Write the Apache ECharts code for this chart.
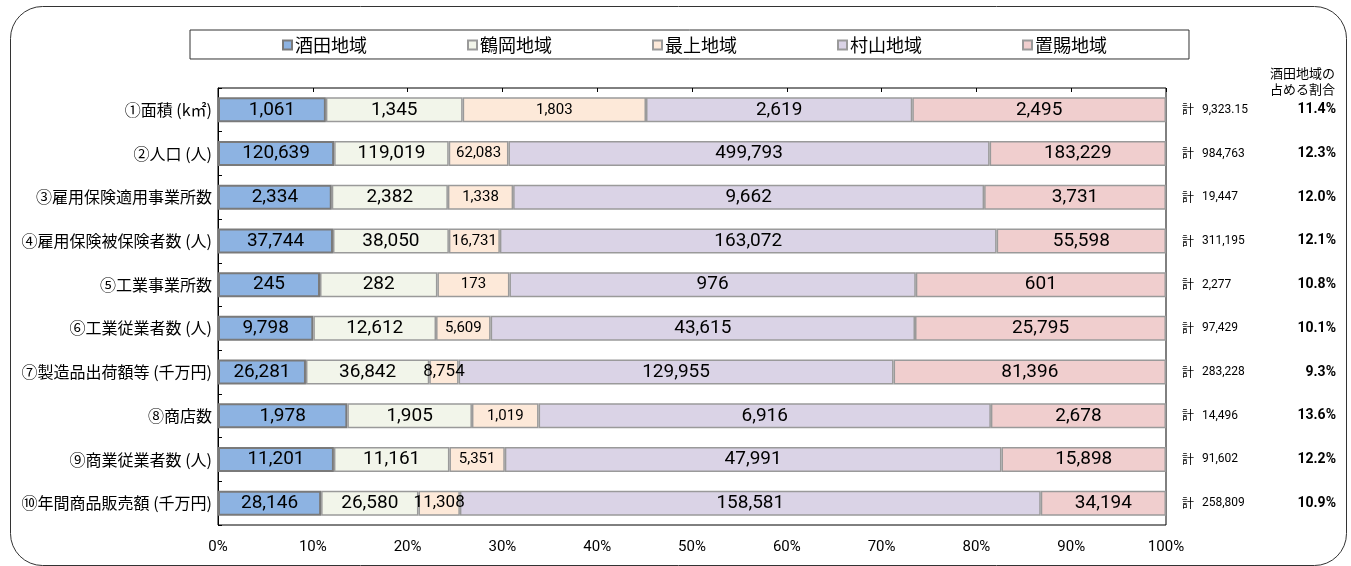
<!DOCTYPE html>
<html>
<head>
<meta charset="utf-8">
<script src="https://cdn.jsdelivr.net/npm/echarts@6/dist/echarts.min.js"></script>
<style>
html,body{margin:0;padding:0;background:#fff;}
#c{width:1351px;height:566px;}
</style>
</head>
<body>
<div id="c"></div>
<script>
const categories = ['①面積 (k㎡)','②人口 (人)','③雇用保険適用事業所数','④雇用保険被保険者数 (人)','⑤工業事業所数','⑥工業従業者数 (人)','⑦製造品出荷額等 (千万円)','⑧商店数','⑨商業従業者数 (人)','⑩年間商品販売額 (千万円)'];
const regionNames = ['酒田地域','鶴岡地域','最上地域','村山地域','置賜地域'];
const sakata  = [1061, 120639, 2334, 37744, 245, 9798, 26281, 1978, 11201, 28146];
const tsuruoka = [1345, 119019, 2382, 38050, 282, 12612, 36842, 1905, 11161, 26580];
const mogami  = [1803, 62083, 1338, 16731, 173, 5609, 8754, 1019, 5351, 11308];
const murayama = [2619, 499793, 9662, 163072, 976, 43615, 129955, 6916, 47991, 158581];
const okitama = [2495, 183229, 3731, 55598, 601, 25795, 81396, 2678, 15898, 34194];
const totals = [9323.15, 984763, 19447, 311195, 2277, 97429, 283228, 14496, 91602, 258809];
const xTicks = [0,10,20,30,40,50,60,70,80,90,100];
const headerText = '酒田地域の\n占める割合';

const seriesValues = [sakata, tsuruoka, mogami, murayama, okitama];
const colors = ['#8DB3E2','#F2F5EA','#FDE9D9','#DAD3E6','#F0CECE'];
const borderColors = ['#7a7a7a','#9a9a9a','#9a9a9a','#9a9a9a','#9a9a9a'];
const rowSums = categories.map((_, i) => seriesValues.reduce((s, arr) => s + arr[i], 0));
const fmt = v => v.toLocaleString('en-US', {maximumFractionDigits: 2});

const series = seriesValues.map((arr, si) => ({
  name: regionNames[si],
  type: 'bar',
  stack: 'all',
  barWidth: 25,
  itemStyle: { color: colors[si], borderColor: borderColors[si], borderWidth: si === 0 ? 2 : 1.5 },
  label: {
    show: true,
    position: 'inside',
    color: '#000',
    fontFamily: 'Roboto',
    fontSize: si === 2 ? 15 : 19,
    formatter: p => fmt(arr[p.dataIndex])
  },
  data: arr.map((v, i) => {
    const d = { value: v / rowSums[i] * 100 };
    if (si === 2 && (i === 6 || i === 9)) d.label = { fontSize: 17 };
    return d;
  })
}));

const chart = echarts.init(document.getElementById('c'), null, {renderer: 'canvas'});
chart.setOption({
  animation: false,
  backgroundColor: '#fff',
  textStyle: { fontFamily: 'Noto Sans CJK JP' },
  legend: {
    data: regionNames,
    left: 190,
    top: 30,
    padding: [6, 82, 5, 92],
    borderColor: '#333',
    borderWidth: 1,
    itemGap: 100,
    itemWidth: 9,
    itemHeight: 9,
    icon: 'rect',
    textStyle: { fontSize: 18, color: '#000', fontFamily: 'Noto Sans CJK JP', padding: [0,0,0,-2] }
  },
  grid: {
    left: 218, right: 185, top: 88, bottom: 41,
    show: true, borderColor: '#000', borderWidth: 1, backgroundColor: 'transparent'
  },
  xAxis: [
    {
      type: 'value', min: 0, max: 100, interval: 10, position: 'bottom',
      axisLine: { show: false }, axisTick: { show: false }, splitLine: { show: false },
      axisLabel: { formatter: v => xTicks.includes(v) ? v + '%' : '', fontSize: 15, color: '#000', fontFamily: 'Roboto', margin: 15 }
    },
    {
      type: 'value', min: 0, max: 100, interval: 10, position: 'top',
      axisLine: { show: false }, splitLine: { show: false },
      axisTick: { show: true, inside: true, length: 4, lineStyle: { color: '#000' } },
      axisLabel: { show: false }
    }
  ],
  yAxis: [
    {
      type: 'category', data: categories, inverse: true,
      axisLine: { show: true, lineStyle: { color: '#000' } },
      axisTick: { show: true, inside: true, length: 4, lineStyle: { color: '#000' } },
      axisLabel: { fontSize: 16, color: '#000', fontFamily: 'Noto Sans CJK JP', margin: 6 }
    },
    {
      type: 'category', data: categories, inverse: true, position: 'right',
      axisLine: { show: false }, axisTick: { show: false },
      axisLabel: {
        margin: 16,
        formatter: (v, i) => '{k|計}{a|' + fmt(totals[i]) + '}{b|' + (sakata[i] / totals[i] * 100).toFixed(1) + '%}',
        rich: {
          k: { width: 20, fontSize: 12, color: '#000', fontFamily: 'Noto Sans CJK JP' },
          a: { width: 84, fontSize: 12, color: '#000', fontFamily: 'Roboto' },
          b: { width: 50, align: 'right', fontSize: 14, fontWeight: 'bold', color: '#000', fontFamily: 'Roboto' }
        }
      }
    }
  ],
  series: series,
  graphic: [
    {
      type: 'rect', left: 8, top: 4, silent: true,
      shape: { width: 1336, height: 559, r: 32 },
      style: { fill: 'none', stroke: '#333', lineWidth: 1 }
    },
    {
      type: 'text', left: 1270, top: 65, silent: true,
      style: { text: headerText, fontSize: 13, lineHeight: 16, fill: '#000', align: 'center', fontFamily: 'Noto Sans CJK JP' }
    }
  ]
});
</script>
</body>
</html>
